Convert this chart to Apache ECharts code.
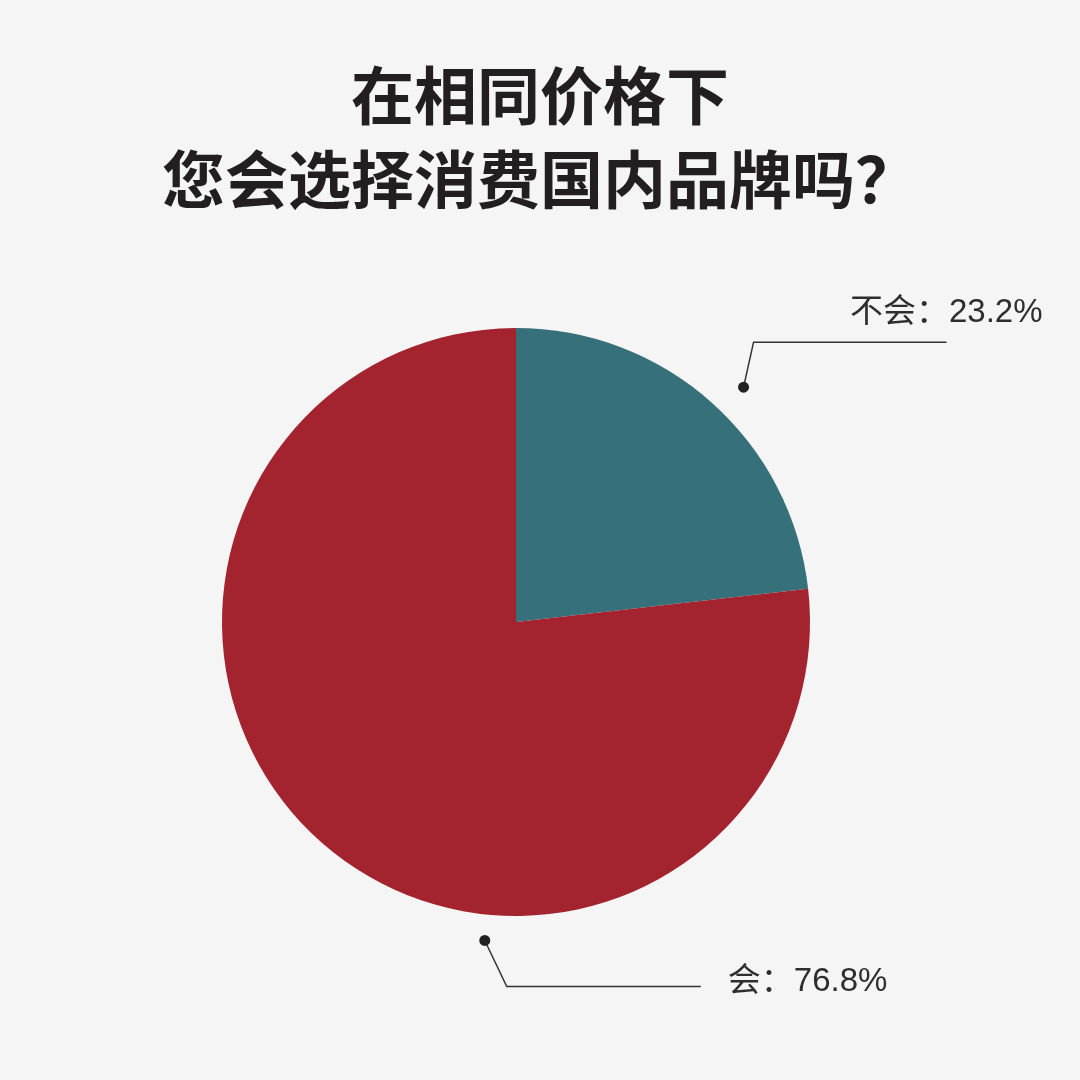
<!DOCTYPE html>
<html>
<head>
<meta charset="utf-8">
<script src="https://cdn.jsdelivr.net/npm/echarts@6/dist/echarts.min.js"></script>
<style>
html,body{margin:0;padding:0;background:#F4F5F4;}
#main{width:1080px;height:1080px;}
</style>
</head>
<body>
<div id="main"></div>
<script>
// ---- data ----
const titleLines = ['在相同价格下', '您会选择消费国内品牌吗？'];
const categories = ['不会', '会'];
const values = [23.2, 76.8];
const colors = ['#36707A', '#A3232E'];

// ---- style / geometry (not data) ----
const C = [516, 622];
const R = 294;
// label guide geometry per slice: dot angle (deg from 12 o'clock, clockwise), dot radius, elbow offset, horizontal length, text offset
const guide = [
  { ang: 44.1, r: 327, elbow: [10, -45], len: 193, text: [96, -29], align: 'right' },
  { ang: 185.6, r: 320, elbow: [22, 46], len: 194, text: [27, -5], align: 'left' }
];
function guidePts(i) {
  const g = guide[i];
  const a = g.ang * Math.PI / 180;
  const p0 = [C[0] + g.r * Math.sin(a), C[1] - g.r * Math.cos(a)];
  const p1 = [p0[0] + g.elbow[0], p0[1] + g.elbow[1]];
  const p2 = [p1[0] + g.len, p1[1]];
  return [p0, p1, p2];
}

const chart = echarts.init(document.getElementById('main'));
const dots = guide.map((g, i) => {
  const p = guidePts(i)[0];
  return { type: 'circle', shape: { cx: p[0], cy: p[1], r: 5.5 }, style: { fill: '#222' }, z: 10 };
});

chart.setOption({
  backgroundColor: '#F4F5F4',
  animation: false,
  title: {
    text: titleLines.join('\n'),
    left: 'center',
    top: 48,
    textStyle: {
      fontSize: 63,
      lineHeight: 84,
      fontWeight: 'bold',
      color: '#231F20',
      fontFamily: '"Noto Sans CJK SC", sans-serif'
    }
  },
  graphic: dots,
  series: [{
    type: 'pie',
    center: C,
    radius: R,
    startAngle: 90,
    clockwise: true,
    avoidLabelOverlap: false,
    data: categories.map((c, i) => ({ name: c, value: values[i], itemStyle: { color: colors[i] } })),
    label: {
      show: true,
      formatter: p => p.name + '：' + p.value.toFixed(1) + '%',
      fontSize: 33,
      fontWeight: 'normal',
      color: '#2e2e2e',
      fontFamily: '"Liberation Sans", "Noto Sans CJK SC", sans-serif'
    },
    labelLine: {
      show: true,
      smooth: false,
      lineStyle: { color: '#333', width: 1.5 }
    },
    labelLayout: function (params) {
      const i = params.dataIndex;
      const pts = guidePts(i);
      const g = guide[i];
      return {
        x: pts[2][0] + g.text[0],
        y: pts[2][1] + g.text[1],
        align: g.align,
        verticalAlign: 'middle',
        labelLinePoints: pts
      };
    },
    emphasis: { disabled: true }
  }]
});
</script>
</body>
</html>
